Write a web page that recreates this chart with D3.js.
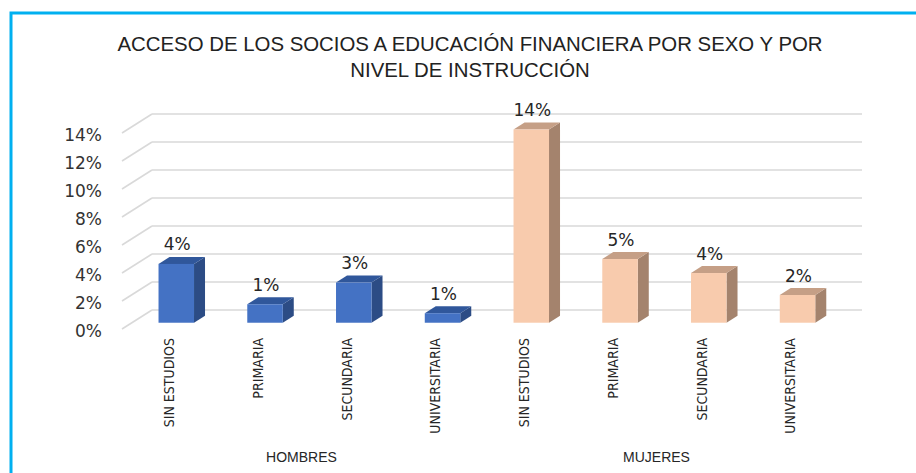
<!DOCTYPE html>
<html>
<head>
<meta charset="utf-8">
<script src="https://cdn.jsdelivr.net/npm/d3@7"></script>
<style>
  html, body { margin: 0; padding: 0; background: #fff; }
  svg { display: block; }
</style>
</head>
<body>
<svg id="chart" width="916" height="473"></svg>
<script>
// chart data
const groups = ['HOMBRES', 'MUJERES'];
const levels = ['SIN ESTUDIOS', 'PRIMARIA', 'SECUNDARIA', 'UNIVERSITARIA'];
const hombres = [0.042, 0.0132, 0.0287, 0.0068];
const mujeres = [0.138, 0.0455, 0.0355, 0.0198];
const yTicks = [0, 0.02, 0.04, 0.06, 0.08, 0.10, 0.12, 0.14];
const titleLines = ['ACCESO DE LOS SOCIOS A EDUCACIÓN FINANCIERA POR SEXO Y POR', 'NIVEL DE INSTRUCCIÓN'];

const colors = {
  HOMBRES: { front: '#4472c4', top: '#30579b', side: '#2c4c85' },
  MUJERES: { front: '#f8cbad', top: '#c59f86', side: '#a4836d' }
};

const rows = [];
groups.forEach((g, gi) => {
  const vals = gi === 0 ? hombres : mujeres;
  levels.forEach((l, li) => rows.push({ key: g + '|' + l, group: g, level: l, value: vals[li] }));
});

const svg = d3.select('#chart');

// frame
svg.append('rect')
  .attr('x', 11).attr('y', 13)
  .attr('width', 1000).attr('height', 1000)
  .attr('fill', 'none')
  .attr('stroke', '#00b0f0')
  .attr('stroke-width', 3);

// title
svg.append('g').selectAll('text')
  .data(titleLines)
  .join('text')
  .attr('x', 470)
  .attr('y', (d, i) => 51 + i * 26)
  .attr('text-anchor', 'middle')
  .style('font-family', '"Liberation Sans", Arial, sans-serif')
  .style('font-size', '20.4px')
  .attr('fill', '#222')
  .text(d => d);

// 3d geometry: back wall and depth offsets
const back = { left: 152, right: 862 };
const floorDepth = { dx: -30, dy: 19 };   // back wall -> front edge of floor
const barPlane = 0.67;                     // bars' front face, fraction of floor depth
const barDepth = { dx: 11, dy: -7 };

const y = d3.scaleLinear().domain([0, 0.14]).range([310, 114]);
const x = d3.scaleBand()
  .domain(rows.map(d => d.key))
  .range([back.left, back.right])
  .paddingInner(0.6)
  .paddingOuter(0.3);

// gridlines (back wall + side wall)
const grid = svg.append('g').attr('stroke', '#d9d9d9').attr('stroke-width', 1.6).attr('fill', 'none');
yTicks.forEach(t => {
  grid.append('line')
    .attr('x1', back.left).attr('x2', back.right)
    .attr('y1', y(t)).attr('y2', y(t));
  grid.append('line')
    .attr('x1', back.left).attr('y1', y(t))
    .attr('x2', back.left + floorDepth.dx).attr('y2', y(t) + floorDepth.dy);
});

// y tick labels
const fmt = d3.format('.0%');
svg.append('g').selectAll('text')
  .data(yTicks)
  .join('text')
  .attr('x', 102)
  .attr('y', d => y(d) + floorDepth.dy + 2.5)
  .attr('dy', '0.35em')
  .attr('text-anchor', 'end')
  .style('font-family', '"DejaVu Sans", Verdana, sans-serif')
  .style('font-size', '17px')
  .attr('fill', '#333')
  .text(d => fmt(d));

// bars
const ox = floorDepth.dx * barPlane, oy = floorDepth.dy * barPlane;
const bw = x.bandwidth();
const bars = svg.append('g').selectAll('g')
  .data(rows)
  .join('g');

bars.each(function(d) {
  const g = d3.select(this);
  const c = colors[d.group];
  const x0 = x(d.key) + ox, x1 = x0 + bw;
  const yt = y(d.value) + oy, yb = y(0) + oy;
  const p = pts => pts.map(q => q.join(',')).join(' ');
  g.append('polygon')
    .attr('points', p([[x1, yt], [x1 + barDepth.dx, yt + barDepth.dy], [x1 + barDepth.dx, yb + barDepth.dy], [x1, yb]]))
    .attr('fill', c.side);
  g.append('polygon')
    .attr('points', p([[x0, yt], [x0 + barDepth.dx, yt + barDepth.dy], [x1 + barDepth.dx, yt + barDepth.dy], [x1, yt]]))
    .attr('fill', c.top);
  g.append('rect')
    .attr('x', x0).attr('y', yt)
    .attr('width', bw).attr('height', yb - yt)
    .attr('fill', c.front);
  g.append('text')
    .attr('x', x0 + bw / 2 + 1)
    .attr('y', yt - 13.5)
    .attr('text-anchor', 'middle')
    .style('font-family', '"DejaVu Sans", Verdana, sans-serif')
    .style('font-size', '17px')
    .attr('fill', '#262626')
    .text(fmt(d.value));
});

// category labels (rotated)
svg.append('g').selectAll('text')
  .data(rows)
  .join('text')
  .attr('transform', d => `translate(${x(d.key) + bw / 2 + ox - 7},338) rotate(-90)`)
  .attr('dy', '0.35em')
  .attr('text-anchor', 'end')
  .style('font-family', '"Liberation Sans Narrow", "DejaVu Sans Condensed", sans-serif')
  .style('font-size', '14px')
  .attr('fill', '#262626')
  .text(d => d.level);

// group labels
svg.append('g').selectAll('text')
  .data(groups)
  .join('text')
  .attr('x', g => {
    const ks = rows.filter(r => r.group === g).map(r => x(r.key) + bw / 2);
    return d3.mean(ks) + floorDepth.dx + 2;
  })
  .attr('y', 461.5)
  .attr('text-anchor', 'middle')
  .style('font-family', '"Liberation Sans", Arial, sans-serif')
  .style('font-size', '14px')
  .attr('fill', '#262626')
  .text(d => d);
</script>
</body>
</html>
